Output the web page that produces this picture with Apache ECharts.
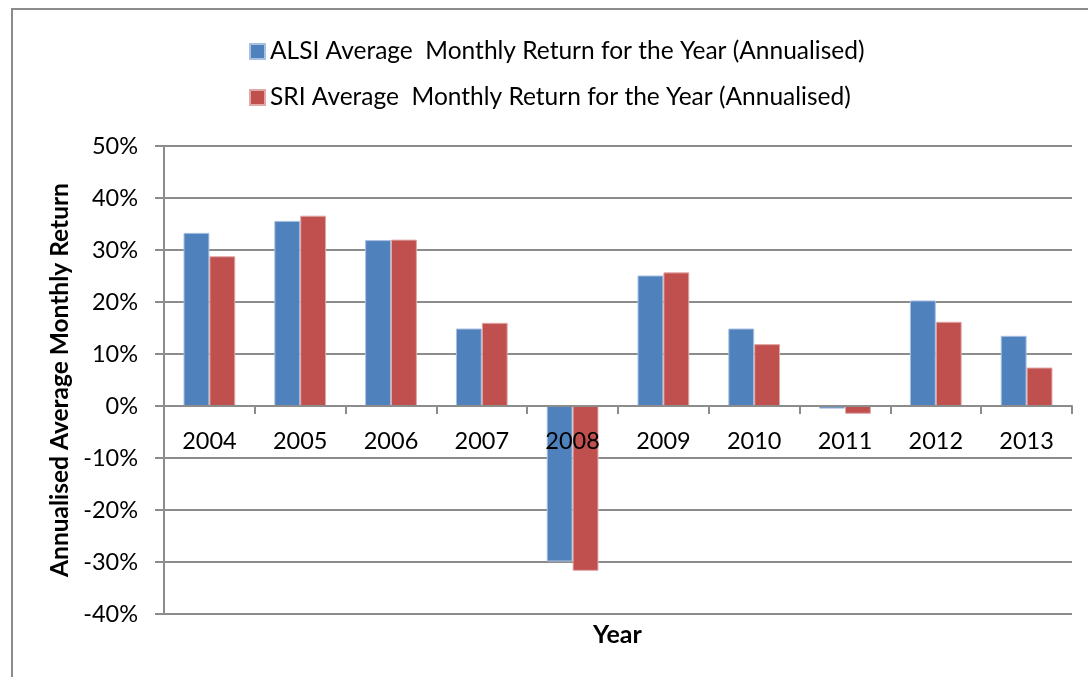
<!DOCTYPE html>
<html>
<head>
<meta charset="utf-8">
<script src="https://cdn.jsdelivr.net/npm/echarts@6/dist/echarts.min.js"></script>
<style>
  html, body { margin: 0; padding: 0; background: #fff; }
  #frame {
    position: absolute; left: 11px; top: 8px; width: 1100px; height: 700px;
    border-top: 2px solid #8c8c8c; border-left: 2px solid #8c8c8c;
  }
  #chart { position: absolute; left: 0; top: 0; width: 1088px; height: 677px; }
</style>
</head>
<body>
<div id="frame"></div>
<div id="chart"></div>
<script>
const years = ["2004", "2005", "2006", "2007", "2008", "2009", "2010", "2011", "2012", "2013"];
const alsiName = "ALSI Average  Monthly Return for the Year (Annualised)";
const sriName = "SRI Average  Monthly Return for the Year (Annualised)";
const alsiValues = [33.3, 35.6, 31.9, 14.9, -29.9, 25.1, 14.9, -0.5, 20.3, 13.5];
const sriValues = [28.8, 36.6, 32.0, 16.0, -31.7, 25.7, 11.9, -1.5, 16.2, 7.4];

const font = "Lato, 'Open Sans', sans-serif";
const gridColor = "#8c8c8c";

let myChart = echarts.init(document.getElementById("chart"));
const option = {
  animation: false,
  textStyle: { fontFamily: font },
  legend: {
    orient: "vertical",
    left: 244,
    top: 34,
    itemWidth: 15,
    itemHeight: 15,
    itemGap: 21,
    icon: "rect",
    textStyle: { fontSize: 24.5, color: "#000", fontFamily: font },
    data: [alsiName, sriName],
  },
  grid: {
    left: 164,
    right: 16,
    top: 146,
    bottom: 63,
  },
  xAxis: {
    type: "category",
    data: years,
    z: 10,
    // keep line and labels at the 0% level
    offset: -208,
    axisLine: { onZero: false, lineStyle: { color: gridColor, width: 2 } },
    axisTick: { show: true, length: 8, lineStyle: { color: gridColor, width: 2 } },
    axisLabel: { fontSize: 23.5, color: "#000", margin: 23, fontFamily: font },
  },
  yAxis: {
    type: "value",
    min: -40,
    max: 50,
    interval: 10,
    name: "Annualised Average Monthly Return",
    nameLocation: "middle",
    nameRotate: 90,
    nameGap: 90,
    nameTextStyle: { fontSize: 24.5, fontWeight: "bold", color: "#000", fontFamily: font },
    axisLine: { show: true, lineStyle: { color: gridColor, width: 2 } },
    axisTick: { show: true, length: 9, lineStyle: { color: gridColor, width: 2 } },
    axisLabel: { formatter: "{value}%", fontSize: 23.5, color: "#000", margin: 26, fontFamily: font },
    splitLine: { show: true, lineStyle: { color: gridColor, width: 2 } },
  },
  graphic: [
    {
      type: "text",
      left: 618 - 25,
      top: 622,
      style: { text: "Year", fontSize: 25, fontWeight: "bold", fill: "#000", fontFamily: font },
    },
  ],
  series: [
    {
      name: alsiName,
      type: "bar",
      data: alsiValues,
      barGap: "0%",
      barCategoryGap: "43%",
      itemStyle: { color: "#4F81BD", borderColor: "#a9c1e0", borderWidth: 1 },
    },
    {
      name: sriName,
      type: "bar",
      data: sriValues,
      barGap: "0%",
      barCategoryGap: "43%",
      itemStyle: { color: "#C0504D", borderColor: "#e0a9a8", borderWidth: 1 },
    },
  ],
};
option && myChart.setOption(option);
</script>
</body>
</html>
